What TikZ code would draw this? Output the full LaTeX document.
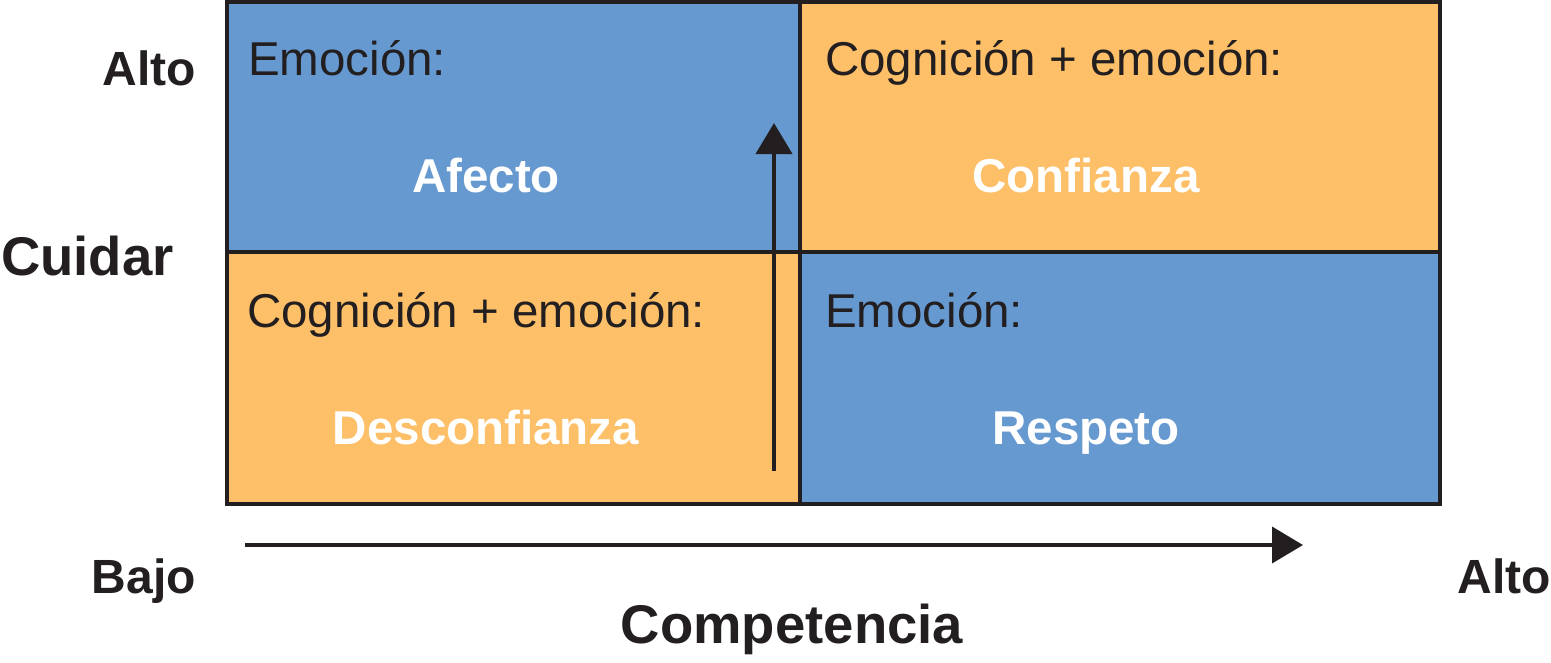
\documentclass[tikz,border=0pt]{standalone}
\usepackage{fontspec}
\setmainfont{Liberation Sans}
\usetikzlibrary{arrows.meta}
\definecolor{qblue}{RGB}{102,153,208}
\definecolor{qorange}{RGB}{253,191,104}
\definecolor{ink}{RGB}{35,31,32}
\tikzset{
  quad/.style={draw=ink, line width=4pt, inner sep=0pt, outer sep=0pt, minimum height=#1},
  head/.style={text=ink, font=\fontsize{47.5}{56}\selectfont, inner sep=0pt},
  big/.style={text=white, font=\fontsize{47.5}{56}\selectfont\bfseries, inner sep=0pt},
  axis/.style={text=ink, font=\fontsize{48}{58}\selectfont\bfseries, inner sep=0pt},
  axisbig/.style={text=ink, font=\fontsize{54.5}{64}\selectfont\bfseries, inner sep=0pt},
  arr/.style={draw=ink, line width=4pt, -{Triangle[length=31pt,width=36pt]}}
}
\begin{document}
\begin{tikzpicture}[x=1pt,y=-1pt]
\useasboundingbox (0,0) rectangle (1551,662);
% quadrants
\node[quad=250pt, fill=qblue, minimum width=573pt] (tl) at (513.5,127) {};
\node[quad=250pt, fill=qorange, minimum width=640pt] (tr) at (1120,127) {};
\node[quad=252pt, fill=qorange, minimum width=573pt] (bl) at (513.5,378) {};
\node[quad=252pt, fill=qblue, minimum width=640pt] (br) at (1120,378) {};
% quadrant texts
\node[head, anchor=base west] (tlh) at (248,75) {Emoción:};
\node[big, anchor=base] (tlb) at (486,192) {Afecto};
\node[head, anchor=base west] (trh) at (825,75) {Cognición + emoción:};
\node[big, anchor=base] (trb) at (1086,192) {Confianza};
\node[head, anchor=base west] (blh) at (247,327) {Cognición + emoción:};
\node[big, anchor=base] (blb) at (486,444) {Desconfianza};
\node[head, anchor=base west] (brh) at (825,327) {Emoción:};
\node[big, anchor=base] (brb) at (1086,444) {Respeto};
% axis labels
\node[axis, anchor=base east] (yhi) at (196,85) {Alto};
\node[axisbig, anchor=base west] (ylab) at (1,275) {Cuidar};
\node[axis, anchor=base east] (xlo) at (196,593) {Bajo};
\node[axis, anchor=base east] (xhi) at (1551,593) {Alto};
\node[axisbig, anchor=base] (xlab) at (792,643) {Competencia};
% arrows
\coordinate (vs) at (774,471);
\coordinate (ve) at (774,123);
\coordinate (hs) at (245,545);
\coordinate (he) at (1303,545);
\draw[arr] (vs) -- (ve);
\draw[arr] (hs) -- (he);
\end{tikzpicture}
\end{document}
